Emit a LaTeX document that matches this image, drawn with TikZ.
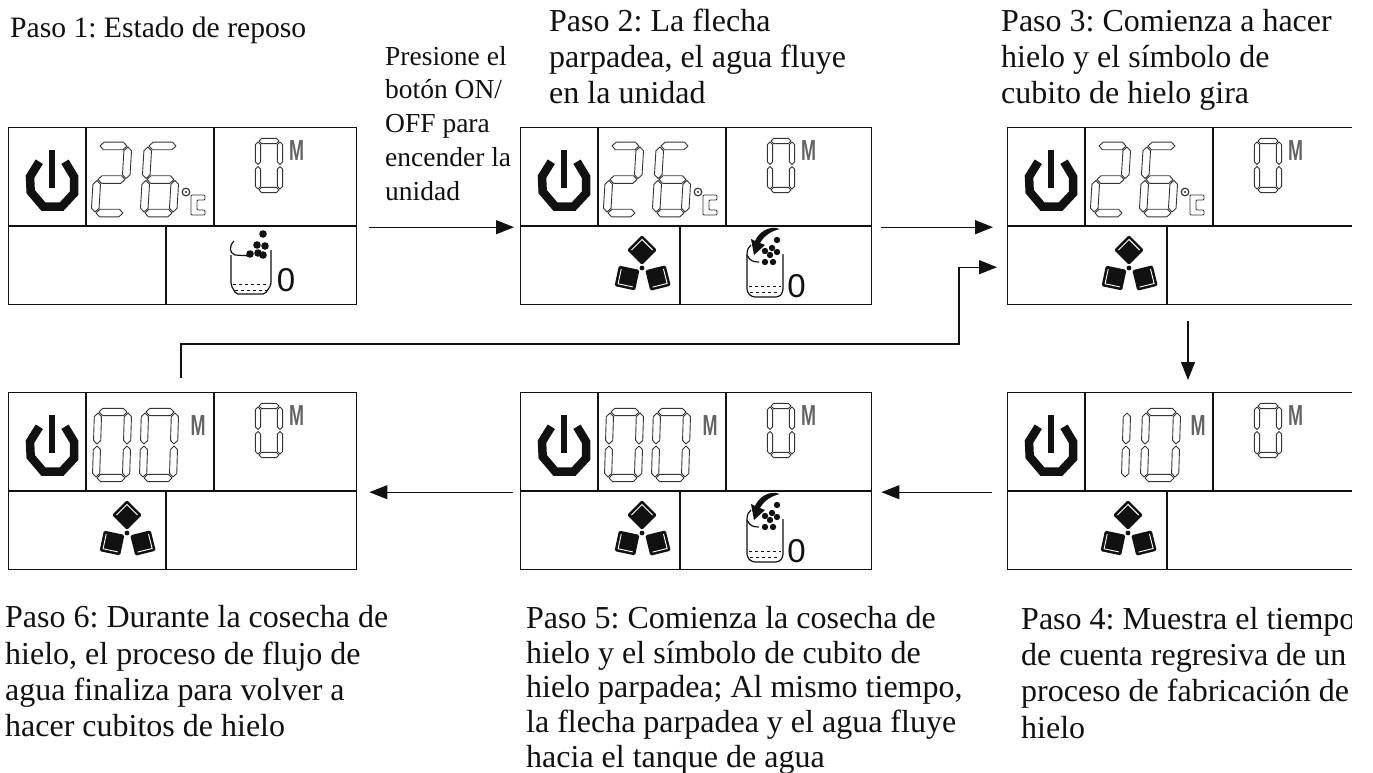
\documentclass[tikz,border=0pt]{standalone}
\usepackage{fontspec}
\setmainfont{Liberation Serif}
\newfontfamily\lcdfont{Liberation Sans}
\usetikzlibrary{arrows.meta}
\definecolor{ink}{HTML}{111111}
\tikzset{
  x=1pt,y=-1pt,
  panel/.style={draw=ink,line width=1.4pt,anchor=north west,inner sep=0pt,minimum height=#1},
  rule/.style={draw=ink,line width=1.3pt},
  seg/.style={draw=ink!85,line width=.9pt,line join=round},
  flow/.style={draw=ink,line width=1.1pt,-{Triangle[length=18pt,width=14pt]}},
  caption/.style={anchor=north west,inner sep=0pt,align=left,font=\fontsize{32}{36.2}\selectfont\frenchspacing,text=ink},
  small/.style={anchor=north west,inner sep=0pt,align=left,font=\fontsize{27.5}{33.7}\selectfont\frenchspacing,text=ink},
  unit/.style={inner sep=0pt,font=\lcdfont\bfseries\fontsize{29}{29}\selectfont,text=ink!65,xscale=.62},
  count/.style={inner sep=0pt,font=\lcdfont\fontsize{33}{33}\selectfont,text=ink},
}
% seven-segment pieces; \dw \dh \dt set by \sevenseg
\newcommand{\segh}[1]{\draw[seg] (1,#1)--(1+\dt,#1-\dt)--(\dw-1-\dt,#1-\dt)--(\dw-1,#1)--(\dw-1-\dt,#1+\dt)--(1+\dt,#1+\dt)--cycle;}
\newcommand{\segv}[3]{\draw[seg] (#1,#2+1)--(#1+\dt,#2+1+\dt)--(#1+\dt,#3-1-\dt)--(#1,#3-1)--(#1-\dt,#3-1-\dt)--(#1-\dt,#2+1+\dt)--cycle;}
\newcommand{\segA}{\segh{0}}
\newcommand{\segG}{\segh{\dh/2}}
\newcommand{\segD}{\segh{\dh}}
\newcommand{\segF}{\segv{0}{0}{\dh/2}}
\newcommand{\segB}{\segv{\dw}{0}{\dh/2}}
\newcommand{\segE}{\segv{0}{\dh/2}{\dh}}
\newcommand{\segC}{\segv{\dw}{\dh/2}{\dh}}
% x y w h thickness slant segments
\newcommand{\sevenseg}[7]{\begin{scope}[shift={(#1,#2)},xslant=#6]\def\dw{#3}\def\dh{#4}\def\dt{#5}#7\end{scope}}
\newcommand{\zero}{\segA\segB\segC\segD\segE\segF}
\newcommand{\powericon}{%
  \draw[ink,line width=8.5pt,miter limit=3] (31.3,34.7)--(22,49.7)--(22.7,64.7)--(35.3,79.5)--(53.7,79.5)--(66,66.3)--(66,49.7)--(57,34.7);
  \draw[ink,line width=5.5pt] (44,23)--(44,61);}
\newcommand{\smallzero}{\sevenseg{250}{14}{22}{49}{2.6}{0}{\zero}\node[unit] (mm\thepanelid) at (288.5,23.5) {M};}
\newcommand{\twentysix}{%
  \sevenseg{91}{19}{29}{67}{3.8}{.06}{\segA\segB\segG\segE\segD}%
  \sevenseg{140}{19}{29}{67}{3.8}{.06}{\segA\segF\segG\segE\segC\segD}%
  \draw[seg,line width=1.2pt] (178,65) circle (3.8);
  \fill[ink!70] (178,65) circle (1.3);
  \draw[seg,line width=.9pt,rounded corners=1pt] (197,68)--(183,68)--(183,88)--(197,88)--(197,83)--(189,83)--(189,73)--(197,73)--cycle;}
\newcommand{\cube}[3]{\begin{scope}[shift={(#1,#2)},rotate=#3]
  \fill[ink,rounded corners=1.5pt] (-10.5,-10.5) rectangle (10.5,10.5);
  \draw[white,line width=.9pt] (-7.5,7.5)--(-7.5,-7.5)--(7.5,-7.5);
\end{scope}}
% centre x y
\newcommand{\cubes}[2]{\begin{scope}[shift={(#1,#2)}]
  \cube{0}{-18}{-45}\cube{-15}{10}{78}\cube{16}{10}{194}
  \fill[ink] (0,0) circle (2.4);
\end{scope}}
\newcommand{\bucketone}{\begin{scope}[shift={(223,113)}]
  \draw[ink,line width=1.2pt,rounded corners=2pt] (0,15)--(0,45)--(5,54)--(34,54)--(40,45)--(40,10);
  \draw[ink,line width=1.2pt] (3,1) .. controls (-2,6) and (-2,13) .. (4,15)--(20,16);
  \draw[ink,line width=.9pt,dashed] (2,44)--(38,44);
  \draw[ink,line width=.9pt,dashed] (4,50)--(36,50);
  \foreach \p/\q in {32/-6,26/5,34/6,19/14,27/13,32/15}{\fill[ink] (\p,\q) circle (3.8);}
\end{scope}\node[count] (cnt\thepanelid) at (278,153) {0};}
\newcommand{\buckettwo}{\begin{scope}[shift={(227,125)}]
  \draw[ink,line width=1.2pt,rounded corners=3pt] (0,2)--(0,40)--(5,45)--(32,45)--(36,40)--(36,2);
  \draw[ink,line width=1.2pt] (0,2) .. controls (0,-3) and (2,-5) .. (4,-7);
  \draw[ink,line width=1.2pt] (0,3) .. controls (3,9) and (6,10) .. (12,10);
  \draw[ink,line width=.9pt,dashed] (2,34)--(34,34);
  \draw[ink,line width=.9pt,dashed] (3,40)--(33,40);
  \foreach \p/\q in {30/-12,25/-4,18/-1,30/0,23/3,18/10,26/10}{\fill[ink] (\p,\q) circle (3.2);}
  \fill[ink] (33,-23) .. controls (24,-21) and (17,-16) .. (13,-9)--(18,-7)--(7,3)--(4,-13)--(8,-11) .. controls (12,-20) and (22,-27) .. (33,-23)--cycle;
\end{scope}\node[count] (cnt\thepanelid) at (276.5,159) {0};}
\newcounter{panelidc}
\newcommand{\thepanelid}{\arabic{panelidc}}
% name x y width lower-divider content
\newcommand{\lcd}[6]{\stepcounter{panelidc}
  \node[panel=177pt,minimum width=#4pt] (#1) at (#2,#3) {};
  \begin{scope}[shift={(#2,#3)}]
    \draw[rule] (0,99)--(#4,99);
    \draw[rule] (78,0)--(78,99);
    \draw[rule] (206,0)--(206,99);
    \draw[rule] (#5,99)--(#5,177);
    \powericon\smallzero
    #6
  \end{scope}}
\begin{document}
\begin{tikzpicture}
\useasboundingbox (0,0) rectangle (1373,773);
\fill[white] (0,0) rectangle (1373,773);

\lcd{p1}{8}{127}{348}{158}{\twentysix\bucketone}
\lcd{p2}{520}{127}{351}{160}{\twentysix\cubes{122}{141}\buckettwo}
\lcd{p3}{1007}{127}{356}{160}{\twentysix\cubes{122}{141}}
\lcd{p4}{1007}{392}{356}{160}{%
  \sevenseg{120}{20}{0}{66}{3.6}{.03}{\segB\segC}%
  \sevenseg{139}{20}{31}{66}{3.6}{.03}{\zero}%
  \node[unit] (mb4) at (191,34) {M};\cubes{121}{141}}
\lcd{p5}{520}{392}{351}{160}{%
  \sevenseg{90}{20}{30}{66}{3.6}{.03}{\zero}%
  \sevenseg{137}{20}{30}{66}{3.6}{.03}{\zero}%
  \node[unit] (mb5) at (190,34) {M};\cubes{122}{141}\buckettwo}
\lcd{p6}{8}{392}{348}{158}{%
  \sevenseg{90}{20}{30}{66}{3.6}{.03}{\zero}%
  \sevenseg{137}{20}{30}{66}{3.6}{.03}{\zero}%
  \node[unit] (mb6) at (190,34) {M};\cubes{119}{141}}

\draw[flow] ([shift={(12,11)}]p1.east) -- ([shift={(-6,11)}]p2.west);
\draw[flow] ([shift={(9,11)}]p2.east) -- ([shift={(-14,11)}]p3.west);
\draw[flow] ([shift={(173,-14)}]p6.north west) -- ++(0,-34) -| ([shift={(-48,51)}]p3.west) -- ([shift={(-10,51)}]p3.west);
\draw[flow] ([xshift=181pt,yshift=-16pt]p3.south west) -- ([xshift=181pt,yshift=12pt]p4.north west);
\draw[flow] ([shift={(-15,11)}]p4.west) -- ([shift={(9,11)}]p5.east);
\draw[flow] ([shift={(-7,11)}]p5.west) -- ([shift={(12,11)}]p6.east);

\node[caption,font=\fontsize{29.6}{36}\selectfont\frenchspacing] (t1) at (10,17) {Paso 1: Estado de reposo};
\node[caption] (t2) at (549,8.5) {Paso 2: La flecha\\parpadea, el agua fluye\\en la unidad};
\node[caption] (t3) at (1001,9) {Paso 3: Comienza a hacer\\hielo y el símbolo de\\cubito de hielo gira};
\node[small] (tm) at (385,46) {Presione el\\botón ON/\\OFF para\\encender la\\unidad};
\node[caption] (t4) at (1021,607) {Paso 4: Muestra el tiempo\\de cuenta regresiva de un\\proceso de fabricación de\\hielo};
\node[caption,font=\fontsize{32}{34.7}\selectfont\frenchspacing] (t5) at (526,606) {Paso 5: Comienza la cosecha de\\hielo y el símbolo de cubito de\\hielo parpadea; Al mismo tiempo,\\la flecha parpadea y el agua fluye\\hacia el tanque de agua};
\node[caption] (t6) at (5,605.5) {Paso 6: Durante la cosecha de\\hielo, el proceso de flujo de\\agua finaliza para volver a\\hacer cubitos de hielo};
\fill[white] (1352,0) rectangle (1373,773);
\end{tikzpicture}
\end{document}
